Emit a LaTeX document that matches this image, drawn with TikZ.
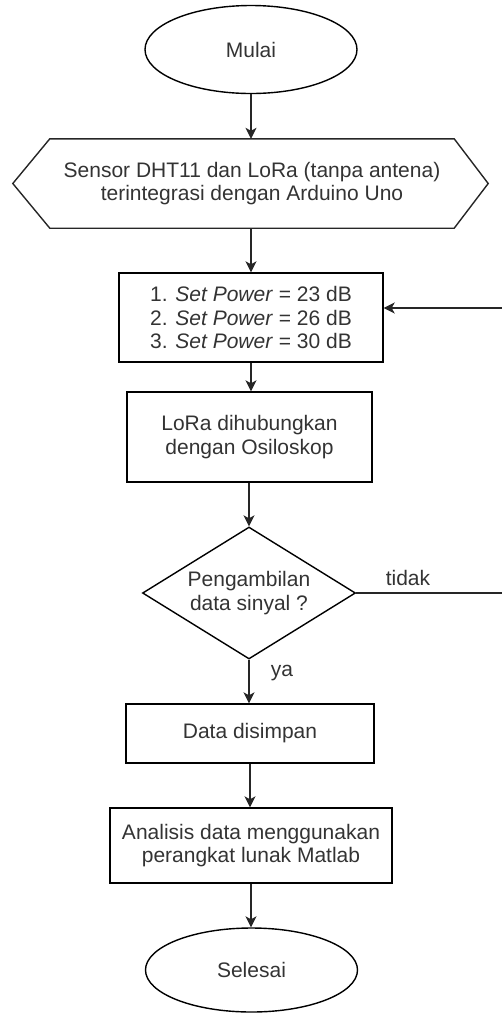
\documentclass[tikz,border=0pt]{standalone}
\usepackage{fontspec}
\setmainfont{Liberation Sans}
\usetikzlibrary{arrows.meta,positioning,shapes.geometric,calc}

\begin{document}
\begin{tikzpicture}[x=1pt, y=-1pt,
  every node/.style={font=\fontsize{21}{23.5}\selectfont, text=black!80, align=center},
  garis/.style={line width=1.4pt, black!85},
  panah/.style={garis, -{Stealth[length=11pt, width=11pt, inset=3pt]}},
  terminal/.style={ellipse, draw, line width=1.4pt, minimum width=212pt, minimum height=88pt, inner sep=0pt},
  proses/.style={rectangle, draw, line width=1.4pt, inner sep=0pt},
  keputusan/.style={diamond, draw, line width=1.4pt, minimum width=213pt, minimum height=132pt, inner sep=0pt, aspect=1.6},
  label/.style={font=\fontsize{21}{23.5}\selectfont}]

\useasboundingbox (0,0) rectangle (502,1013);

% blok utama
\node[terminal] (mulai) at (251,49.5) {Mulai};

\node[minimum width=404pt, minimum height=89pt, inner sep=0pt] (sensor) at (252,183.5)
  {Sensor DHT11 dan LoRa (tanpa antena)\\terintegrasi dengan Arduino Uno};
\draw[garis] (sensor.north west) -- (sensor.north east) -- ([xshift=34pt]sensor.east)
  -- (sensor.south east) -- (sensor.south west) -- ([xshift=-37pt]sensor.west) -- cycle;

\node[proses, minimum width=264pt, minimum height=89pt] (power) at (251,317.5)
  {1. \emph{Set Power} = 23 dB\\2. \emph{Set Power} = 26 dB\\3. \emph{Set Power} = 30 dB};

\node[proses, minimum width=245pt, minimum height=90pt] (lora) at (249.5,437)
  {LoRa dihubungkan\\dengan Osiloskop};

\node[keputusan] (tanya) at (249,593) {Pengambilan\\data sinyal ?};

\node[proses, minimum width=248pt, minimum height=59pt] (simpan) at (250,733.5) {Data disimpan};

\node[proses, minimum width=282pt, minimum height=75pt] (analisis) at (251,845.5)
  {Analisis data menggunakan\\perangkat lunak Matlab};

\node[terminal, minimum height=84pt] (selesai) at (251.5,970) {Selesai};

% panah
\draw[panah] (mulai.south) -- (mulai.south |- sensor.north);
\draw[panah] (mulai.south |- sensor.south) -- (mulai.south |- power.north);
\draw[panah] (power.south) -- (power.south |- lora.north);
\draw[panah] (tanya.north |- lora.south) -- (tanya.north);
\draw[panah] (tanya.south) -- (tanya.south |- simpan.north);
\draw[panah] (simpan.south) -- (simpan.south |- analisis.north);
\draw[panah] (analisis.south) -- (analisis.south |- selesai.north);

% kembali ke set power
\coordinate (kanan) at (505,0);
\draw[panah] (tanya.east) -- (tanya.east -| kanan) |- ([yshift=9.5pt]power.east);

\node[label] (tidak) at (408,578) {tidak};
\node[label] (ya) at (282,673) {ya};

\end{tikzpicture}
\end{document}
